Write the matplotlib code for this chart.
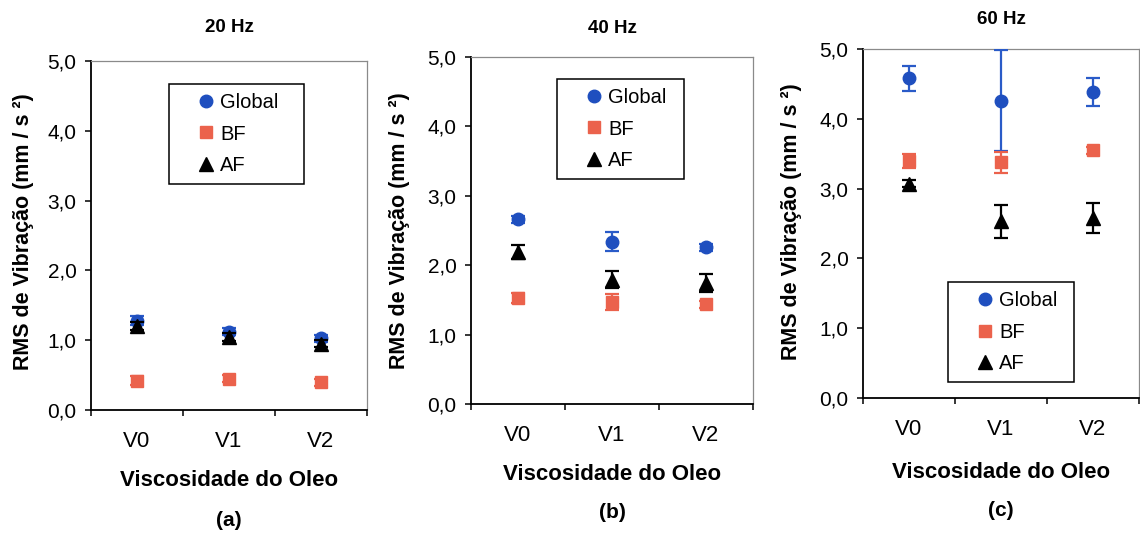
import matplotlib
matplotlib.use('Agg')
import matplotlib.pyplot as plt
from matplotlib.lines import Line2D
from matplotlib.legend_handler import HandlerLine2D

plt.rcParams['font.family'] = ['Liberation Sans', 'DejaVu Sans']

# Viscosity levels on the x axis and the three test frequencies
categories = ['V0', 'V1', 'V2']
freq_titles = ['20 Hz', '40 Hz', '60 Hz']
panel_tags = ['(a)', '(b)', '(c)']
y_ticks = [0, 1, 2, 3, 4, 5]
y_tick_labels = ['0,0', '1,0', '2,0', '3,0', '4,0', '5,0']

# RMS values (mm/s^2) and error-bar half widths
global_20 = [1.28, 1.12, 1.03]
global_20_err = [0.06, 0.05, 0.05]
bf_20 = [0.42, 0.45, 0.40]
bf_20_err = [0.06, 0.05, 0.05]
af_20 = [1.20, 1.05, 0.95]
af_20_err = [0.06, 0.06, 0.05]

global_40 = [2.66, 2.34, 2.26]
global_40_err = [0.05, 0.14, 0.05]
bf_40 = [1.53, 1.47, 1.44]
bf_40_err = [0.07, 0.12, 0.05]
af_40 = [2.19, 1.79, 1.75]
af_40_err = [0.10, 0.12, 0.13]

global_60 = [4.58, 4.26, 4.38]
global_60_err = [0.18, 0.72, 0.20]
bf_60 = [3.40, 3.38, 3.55]
bf_60_err = [0.10, 0.15, 0.05]
af_60 = [3.07, 2.53, 2.58]
af_60_err = [0.05, 0.24, 0.21]

panels = [
    (global_20, global_20_err, bf_20, bf_20_err, af_20, af_20_err),
    (global_40, global_40_err, bf_40, bf_40_err, af_40, af_40_err),
    (global_60, global_60_err, bf_60, bf_60_err, af_60, af_60_err),
]

W, H = 1140, 534
BLUE = '#1f4fbf'
SALMON = '#eb624c'
BLACK = '#000000'

# pixel boxes: axes (left, right, top, bottom), legend (left, right, top, bottom)
axes_px = [(91, 367, 61, 410), (471, 753, 57, 404), (863, 1139, 49, 398)]
legend_px = [(169, 304, 84, 182), (557, 684, 79, 182), (948, 1074, 282, 383)]
title_y_px = [28, 29, 20]
ylabel_px = [(24, 232), (399, 231), (792, 222)]
xlabel_y_px = [480, 475, 472]
tag_y_px = [520, 513, 510]

fig = plt.figure(figsize=(W / 100, H / 100), dpi=100)

for i, (g, ge, b, be, a, ae) in enumerate(panels):
    l, r, t, btm = axes_px[i]
    ax = fig.add_axes([l / W, 1 - btm / H, (r - l) / W, (btm - t) / H])
    x = [k + 0.5 for k in range(len(categories))]

    ax.errorbar(x, g, yerr=ge, fmt='o', color=BLUE, ecolor='#2a5bc8',
                markersize=9, elinewidth=1.6, capsize=5, capthick=1.6, zorder=3)
    ax.errorbar(x, b, yerr=be, fmt='s', color=SALMON, ecolor=SALMON,
                markersize=8.5, elinewidth=1.6, capsize=5, capthick=1.6, zorder=4)
    ax.errorbar(x, a, yerr=ae, fmt='^', color=BLACK, ecolor=BLACK,
                markersize=10, elinewidth=1.6, capsize=5, capthick=1.6, zorder=5)

    ax.set_xlim(0, 3)
    ax.set_ylim(0, 5)
    ax.set_yticks(y_ticks)
    ax.set_yticklabels(y_tick_labels, fontsize=15)
    ax.tick_params(axis='y', direction='out', length=4.5, width=1.1, pad=6)

    ax.set_xticks([0, 1, 2, 3])
    ax.set_xticklabels([])
    ax.set_xticks(x, minor=True)
    ax.set_xticklabels(categories, minor=True, fontsize=16)
    ax.tick_params(axis='x', which='major', direction='out', length=4, width=1.1)
    ax.tick_params(axis='x', which='minor', length=0, pad=15)

    for side in ('left', 'bottom'):
        ax.spines[side].set_color('black')
        ax.spines[side].set_linewidth(1.3)
    for side in ('top', 'right'):
        ax.spines[side].set_color('#8a8a8a')
        ax.spines[side].set_linewidth(0.9)

    ax_h = btm - t
    ax_w = r - l
    ax.set_title(freq_titles[i], fontsize=13.5, fontweight='bold', pad=0,
                 y=1 + (t - title_y_px[i]) / ax_h, va='center')
    ax.set_xlabel('Viscosidade do Oleo', fontsize=16, fontweight='bold')
    ax.xaxis.label.set_va('center')
    ax.xaxis.set_label_coords(0.5, -(xlabel_y_px[i] - btm) / ax_h)
    ax.set_ylabel('RMS de Vibração (mm / s ²)', fontsize=15.5, fontweight='bold')
    ax.yaxis.label.set_va('center')
    yl_x, yl_y = ylabel_px[i]
    ax.yaxis.set_label_coords(-(l - yl_x) / ax_w, (btm - yl_y) / ax_h)
    ax.text(0.5, -(tag_y_px[i] - btm) / ax_h, panel_tags[i], transform=ax.transAxes,
            ha='center', va='center', fontsize=15, fontweight='bold')

    handles = [
        Line2D([], [], linestyle='none', marker='o', color=BLUE, markersize=9),
        Line2D([], [], linestyle='none', marker='s', color=SALMON, markersize=8.5),
        Line2D([], [], linestyle='none', marker='^', color=BLACK, markersize=10),
    ]
    ll, lr, lt, lb = legend_px[i]
    leg = ax.legend(handles, ['Global', 'BF', 'AF'], loc='upper left',
                    bbox_to_anchor=(ll / W, 1 - lb / H, (lr - ll) / W, (lb - lt) / H),
                    bbox_transform=fig.transFigure, mode='expand', borderaxespad=0,
                    fontsize=14.5, borderpad=0.45, labelspacing=0.62,
                    handlelength=1.9, handletextpad=0.2,
                    handler_map={Line2D: HandlerLine2D(xpad=0.85)},
                    fancybox=False, framealpha=1, edgecolor='black')
    leg.get_frame().set_linewidth(1.1)

fig.savefig('out.png', dpi=100)
